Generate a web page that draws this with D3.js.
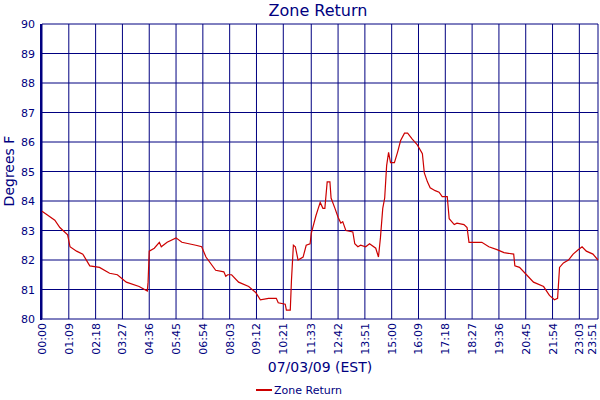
<!DOCTYPE html>
<html><head><meta charset="utf-8">
<script src="https://cdn.jsdelivr.net/npm/d3@7"></script>
<style>body{margin:0;background:#fff}text{font-family:"DejaVu Sans",sans-serif}</style>
</head><body><svg id="chart"></svg>
<script>
// minutes since midnight and zone return temperature
let minutes = [0,13,33,46,66,72,89,105,123,148,174,194,217,250,271,273,276,289,302,307,322,345,360,396,411,422,447,468,473,478,488,506,532,550,562,583,603,608,626,629,639,642,647,652,659,672,680,690,693,705,711,716,723,728,734,741,744,754,762,769,774,782,800,805,813,820,833,843,859,866,871,877,882,887,892,897,907,915,923,933,941,953,966,979,984,992,999,1012,1022,1030,1043,1048,1061,1068,1086,1094,1099,1132,1150,1171,1189,1214,1217,1229,1247,1265,1291,1306,1319,1327,1332,1342,1355,1367,1380,1390,1401,1418,1431]
let temps = [83.65,83.53,83.35,83.1,82.85,82.45,82.3,82.2,81.8,81.75,81.55,81.5,81.25,81.1,80.95,81.25,82.3,82.4,82.6,82.45,82.6,82.75,82.6,82.5,82.45,82.1,81.65,81.6,81.45,81.5,81.5,81.25,81.1,80.9,80.65,80.7,80.7,80.55,80.5,80.3,80.3,81.3,82.5,82.45,82.0,82.1,82.5,82.55,82.9,83.5,83.75,83.95,83.75,83.75,84.65,84.65,84.1,83.75,83.45,83.25,83.3,83.0,82.95,82.55,82.45,82.5,82.45,82.55,82.4,82.1,82.75,83.75,84.1,85.2,85.65,85.3,85.3,85.65,86.05,86.3,86.3,86.1,85.9,85.6,84.95,84.65,84.45,84.35,84.3,84.15,84.15,83.4,83.2,83.25,83.2,83.1,82.6,82.6,82.45,82.35,82.25,82.2,81.8,81.75,81.5,81.25,81.1,80.8,80.65,80.7,81.75,81.9,82.0,82.2,82.35,82.45,82.3,82.2,82.0]
let tickLabels = ["00:00","01:09","02:18","03:27","04:36","05:45","06:54","08:03","09:12","10:21","11:33","12:42","13:51","15:00","16:09","17:18","18:27","19:36","20:45","21:54","23:03","23:51"]
let yTicks = [80,81,82,83,84,85,86,87,88,89,90]

let navy = "#000080", red = "#cc0000"
let svg = d3.select("#chart").attr("width", 600).attr("height", 400)
let x = d3.scaleLinear().domain([0, 1431]).range([42, 598])
let y = d3.scaleLinear().domain([80, 90]).range([319, 24])
let toMin = s => +s.slice(0,2) * 60 + +s.slice(3)

// grid
svg.selectAll(".hg").data(yTicks).enter().append("line")
    .attr("x1", 42).attr("x2", 598).attr("y1", d => y(d)).attr("y2", d => y(d))
    .attr("stroke", navy)
svg.selectAll(".vg").data(tickLabels).enter().append("line")
    .attr("x1", d => x(toMin(d))).attr("x2", d => x(toMin(d))).attr("y1", 24).attr("y2", 319)
    .attr("stroke", navy)
svg.append("line").attr("x1", 41).attr("x2", 41).attr("y1", 24).attr("y2", 320)
    .attr("stroke", navy).attr("stroke-width", 2)

// y axis labels
svg.selectAll(".yl").data(yTicks).enter().append("text")
    .attr("x", 35).attr("y", d => y(d) + 4).attr("text-anchor", "end")
    .attr("font-size", 11).attr("fill", navy).text(d => d)

// x axis labels, the last one pulled in so it stays on the page
svg.selectAll(".xl").data(tickLabels).enter().append("text")
    .attr("transform", (d, i) => `translate(${Math.min(x(toMin(d)) + 4, 596)},323) rotate(-90)`)
    .attr("text-anchor", "end").attr("font-size", 11).attr("fill", navy).text(d => d)

let line = d3.line().x(d => x(d[0])).y(d => y(d[1]))
svg.append("path").datum(d3.zip(minutes, temps)).attr("d", line)
    .attr("fill", "none").attr("stroke", red).attr("stroke-width", 1.2)

// titles
svg.append("text").attr("x", 318).attr("y", 16).attr("text-anchor", "middle")
    .attr("font-size", 16).attr("fill", navy).text("Zone Return")
svg.append("text").attr("transform", "translate(14,171) rotate(-90)").attr("text-anchor", "middle")
    .attr("font-size", 14).attr("fill", navy).text("Degrees F")
svg.append("text").attr("x", 320).attr("y", 372).attr("text-anchor", "middle")
    .attr("font-size", 14).attr("fill", navy).text("07/03/09 (EST)")

// legend
svg.append("line").attr("x1", 256).attr("x2", 272).attr("y1", 390).attr("y2", 390)
    .attr("stroke", red).attr("stroke-width", 2)
svg.append("text").attr("x", 274).attr("y", 394).attr("font-size", 11)
    .attr("fill", navy).text("Zone Return")
</script></body></html>
